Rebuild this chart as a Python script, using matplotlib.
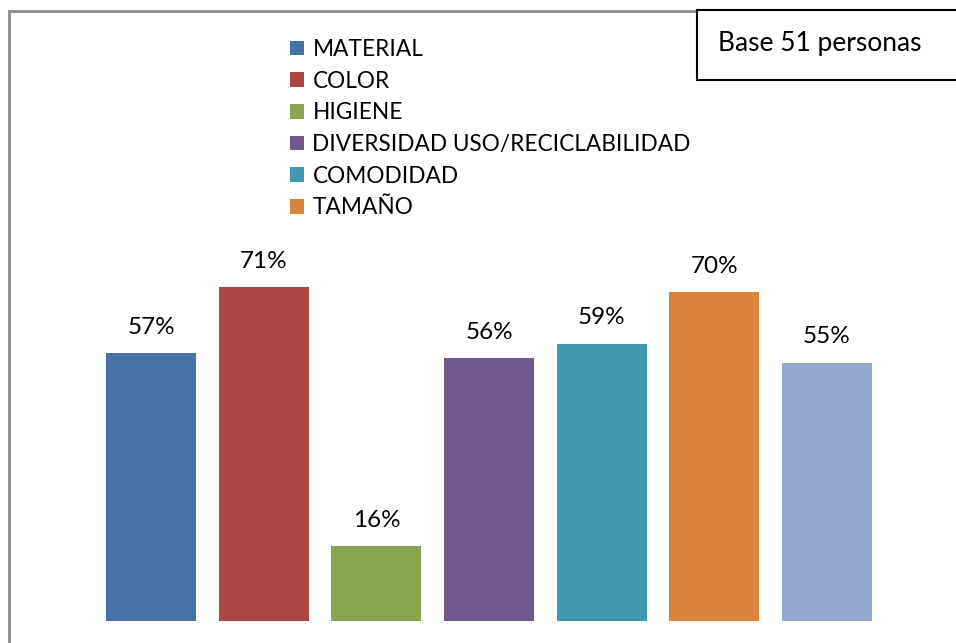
import matplotlib
matplotlib.use("Agg")
from matplotlib import pyplot as plt
from matplotlib.patches import Rectangle, Patch

# Porcentaje de personas que valoran cada atributo
categorias = ['MATERIAL', 'COLOR', 'HIGIENE', 'DIVERSIDAD USO/RECICLABILIDAD',
              'COMODIDAD', 'TAMAÑO', '']
valores = [0.57, 0.71, 0.16, 0.56, 0.59, 0.70, 0.55]
colores = ['#4572A7', '#AA4643', '#89A54E', '#71588F', '#4198AF', '#DB843D', '#93A9CF']
nota = 'Base 51 personas'

plt.rcParams['font.family'] = ['Lato', 'DejaVu Sans']

W, H = 956, 643
fig = plt.figure(figsize=(W / 100, H / 100), dpi=100)

# marco gris del gráfico (sigue fuera del recorte a la derecha y abajo)
fig.patches.append(Rectangle((8.5 / W, -0.2), 1.2, 1.2 - 11 / H, transform=fig.transFigure,
                             fill=False, edgecolor='#8c8c8c', linewidth=2))

# área de barras: 7 posiciones entre x=95 y x=883, base en y=621
ax = fig.add_axes([95 / W, (H - 621) / H, 788 / W, 470 / H])
x = range(len(valores))
barras = ax.bar(x, valores, width=0.8, color=colores)
ax.bar_label(barras, labels=[f'{v:.0%}' for v in valores], padding=11, fontsize=17.5)
ax.set_xlim(-0.5, len(valores) - 0.5)
ax.set_ylim(0, 1.0)
ax.axis('off')

handles = [Patch(facecolor=c) for c in colores[:6]]
fig.legend(handles, categorias[:6], loc='upper left',
           bbox_to_anchor=(290 / W, 1 - 39 / H), frameon=False, fontsize=16.3,
           handlelength=0.62, handleheight=0.62, handletextpad=0.37,
           labelspacing=0.47, borderpad=0, borderaxespad=0)

# recuadro con la base de la muestra
fig.patches.append(Rectangle((697 / W, 1 - 80 / H), 300 / W, 70 / H, transform=fig.transFigure,
                             facecolor='white', edgecolor='black', linewidth=1.5, zorder=5))
fig.text(718 / W, 1 - 43 / H, nota, fontsize=19, va='center', ha='left', zorder=6)

fig.savefig('out.png', dpi=100)
